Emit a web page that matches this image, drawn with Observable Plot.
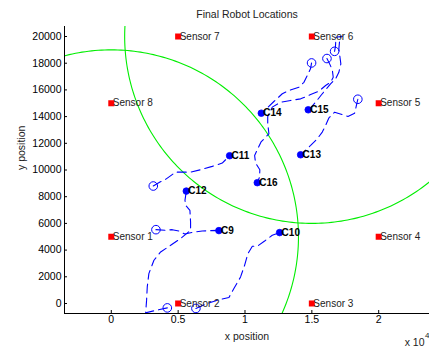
<!DOCTYPE html>
<html><head><meta charset="utf-8">
<script src="https://cdn.jsdelivr.net/npm/d3@7"></script>
<script src="https://cdn.jsdelivr.net/npm/@observablehq/plot@0.6"></script>
<style>
body{margin:0;background:#fff}
#chart svg{font-family:"Liberation Sans",Arial,Helvetica,sans-serif;overflow:visible}
</style>
</head><body><div id="chart"></div>
<script>
// ---- data ----
const titleText = "Final Robot Locations";
const xLabel = "x position";
const yLabel = "y position";
const xDomain = [-3500, 23800];
const yDomain = [-750, 20750];
const xTicks = [0, 5000, 10000, 15000, 20000];
const xTickLabels = ["0", "0.5", "1", "1.5", "2"];
const yTicks = [0, 2000, 4000, 6000, 8000, 10000, 12000, 14000, 16000, 18000, 20000];
const yTickLabels = ["0", "2000", "4000", "6000", "8000", "10000", "12000", "14000", "16000", "18000", "20000"];

const sensorNames = ["Sensor 1", "Sensor 2", "Sensor 3", "Sensor 4", "Sensor 5", "Sensor 6", "Sensor 7", "Sensor 8"];
const sensorX = [0, 5000, 15000, 20000, 20000, 15000, 5000, 0];
const sensorY = [5000, 0, 0, 5000, 15000, 20000, 20000, 15000];

const rangeCenterX = [0, 15000];
const rangeCenterY = [5000, 20000];
const rangeRadius = [14000, 14000];

const robotNames = ["C9", "C10", "C11", "C12", "C13", "C14", "C15", "C16"];
const finalX = [8050, 12590, 8850, 5610, 14160, 11220, 14730, 10920];
const finalY = [5460, 5310, 11070, 8420, 11140, 14256, 14510, 9050];
const startX = [3340, 6330, 3140, 4190, 18440, 14980, 16700, 16130];
const startY = [5530, -370, 8800, -330, 15300, 18020, 18890, 18350];

const trailC9 = [[3340,5530],[4060,5480],[4560,5530],[5060,5430],[5500,5200],[6200,5350],[6800,5430],[7950,5480],[8050,5460]];
const trailC10 = [[6330,-370],[7180,0],[7930,250],[8800,450],[9170,1120],[9670,1990],[9970,2860],[10220,3740],[10550,4290],[10920,4290],[11470,4680],[12040,5110],[12590,5310]];
const trailC11 = [[3140,8800],[3640,9100],[4060,9300],[4810,9840],[5930,9840],[6680,10020],[7550,10270],[8300,10520],[8850,11070]];
const trailC12 = [[4190,-330],[3190,-550],[2570,-700],[2640,250],[2690,1240],[2810,2240],[3190,3240],[3690,3860],[4440,4360],[5180,4860],[5930,5480],[5930,6100],[5880,6980],[5560,7350],[5510,7730],[5610,8420]];
const trailC13 = [[18440,15300],[18350,14910],[18200,14260],[17700,14010],[16700,14330],[16280,13910],[16030,13340],[15780,12840],[15410,12340],[14910,11840],[14160,11140]];
const trailC14 = [[14980,18020],[14900,17580],[14660,17080],[14410,16570],[14030,16200],[13280,15950],[12790,15710],[12160,15130],[11670,14660],[11220,14256]];
const trailC15 = [[16700,18890],[16770,19300],[16800,19940],[17280,20020],[17100,19940],[17020,19070],[17170,17950],[17020,17320],[16780,16830],[16400,16450],[15780,15710],[15280,15080],[14910,14660],[14730,14510]];
const trailC16 = [[16130,18350],[16330,17950],[16530,17500],[16600,16950],[16400,16570],[16030,16330],[15530,15900],[14910,15650],[14160,15330],[13410,15210],[12660,15080],[12040,14710],[11700,14000],[11700,13500],[11790,12710],[11200,12100],[10720,11090],[10790,10520],[11110,10020],[11090,9470],[10920,9050]];

// ---- derived tables ----
const trails = [trailC9, trailC10, trailC11, trailC12, trailC13, trailC14, trailC15, trailC16];
const trailRows = trails.flatMap((t, i) => t.map(([x, y]) => ({id: robotNames[i], x, y})));
const sensors = sensorNames.map((n, i) => ({name: n, x: sensorX[i], y: sensorY[i]}));
const robots = robotNames.map((n, i) => ({name: n, x: finalX[i], y: finalY[i], sx: startX[i], sy: startY[i]}));
const circleRows = rangeCenterX.flatMap((cx, i) =>
  d3.range(0, 361, 1).map(a => ({id: i, x: cx + rangeRadius[i] * Math.cos(a * Math.PI / 180), y: rangeCenterY[i] + rangeRadius[i] * Math.sin(a * Math.PI / 180)})));

const fmtX = new Map(xTicks.map((t, i) => [t, xTickLabels[i]]));
const fmtY = new Map(yTicks.map((t, i) => [t, yTickLabels[i]]));

const chart = Plot.plot({
  width: 429,
  height: 350,
  marginLeft: 64,
  marginRight: 0,
  marginTop: 26,
  marginBottom: 37,
  x: {domain: xDomain},
  y: {domain: yDomain},
  style: {fontFamily: "Liberation Sans, Arial, sans-serif", fontSize: "10.5px", color: "#000", background: "#fff"},
  marks: [
    Plot.line(circleRows, {x: "x", y: "y", z: "id", stroke: "#00ee00", strokeWidth: 1.1, clip: true}),
    Plot.line(trailRows, {x: "x", y: "y", z: "id", stroke: "#0000ff", strokeWidth: 1.1, strokeDasharray: "9,5", clip: true}),
    Plot.dot(robots, {x: "sx", y: "sy", r: 4.3, stroke: "#0000ff", strokeWidth: 1, fill: "none"}),
    Plot.dot(robots, {x: "x", y: "y", r: 3.3, fill: "#0000ff", stroke: "#0000ff", strokeWidth: 0.8}),
    Plot.text(robots, {x: "x", y: "y", text: "name", textAnchor: "start", dx: 2, fontWeight: "bold", fontSize: 10, fill: "#000"}),
    Plot.dot(sensors, {x: "x", y: "y", symbol: "square", r: 3.4, fill: "#ff0000", stroke: "none"}),
    Plot.text(sensors, {x: "x", y: "y", text: "name", textAnchor: "start", dx: 1.5, fontSize: 10, fill: "#222"}),
    Plot.ruleX([xDomain[0]], {stroke: "#000", strokeWidth: 1}),
    Plot.ruleY([yDomain[0]], {stroke: "#000", strokeWidth: 1}),
    Plot.axisX({ticks: xTicks, tickFormat: d => fmtX.get(d), tickSize: -3, tickPadding: 5, fontSize: 10.5, label: null}),
    Plot.axisY({ticks: yTicks, tickFormat: d => fmtY.get(d), tickSize: -3, tickPadding: 6, fontSize: 10.5, label: null}),
    Plot.text([titleText], {frameAnchor: "top", dy: -12, lineAnchor: "middle", fontSize: 10.5, fill: "#222"}),
    Plot.text([xLabel], {frameAnchor: "bottom", dy: 23, lineAnchor: "middle", fontSize: 10.5, fill: "#222"}),
    Plot.text([yLabel], {frameAnchor: "left", dx: -43, rotate: -90, lineAnchor: "middle", fontSize: 10.5, fill: "#222"}),
    Plot.text(["x 10"], {frameAnchor: "bottom-right", dx: -5, dy: 29, lineAnchor: "middle", textAnchor: "end", fontSize: 10.5, fill: "#222"}),
    Plot.text(["4"], {frameAnchor: "bottom-right", dx: -4.5, dy: 22, lineAnchor: "middle", textAnchor: "start", fontSize: 8, fill: "#222"})
  ]
});
document.getElementById("chart").appendChild(chart);
</script>
</body></html>
